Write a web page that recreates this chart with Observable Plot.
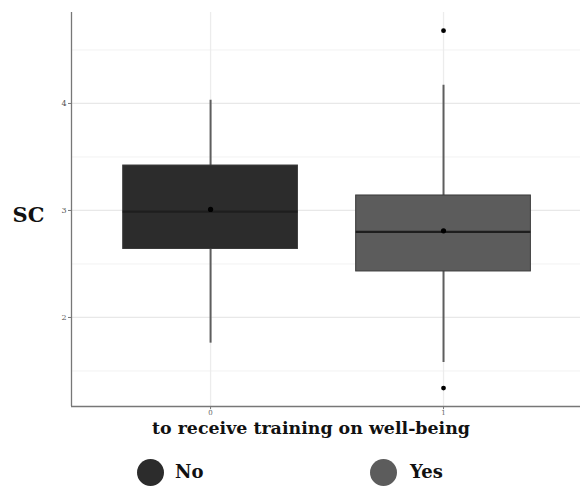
<!DOCTYPE html>
<html>
<head>
<meta charset="utf-8">
<script src="https://cdn.jsdelivr.net/npm/d3@7"></script>
<script src="https://cdn.jsdelivr.net/npm/@observablehq/plot@0.6"></script>
<style>
  body { margin: 0; background: #fff; }
  #chart { width: 580px; }
  .legend { position: relative; height: 38px; font-family: "DejaVu Serif", "Liberation Serif", serif; font-weight: bold; font-size: 18px; color: #111; }
  .legend .sw { position: absolute; width: 27px; height: 27px; border-radius: 50%; top: 11px; }
  .legend .lab { position: absolute; top: 10px; line-height: 27px; }
</style>
</head>
<body>
<div id="chart"></div>
<script>
// Data
const groups = [0, 1];
const groupLabels = ["No", "Yes"];
const fills = ["#2c2c2c", "#5c5c5c"];
const q1 = [2.64, 2.43];
const median = [2.99, 2.80];
const q3 = [3.42, 3.14];
const whiskerLow = [1.76, 1.58];
const whiskerHigh = [4.03, 4.17];
const means = [3.01, 2.81];
const outlierGroup = [1, 1];
const outlierValue = [4.68, 1.34];
const yTicks = [2, 3, 4];
const yMinorGrid = [1.5, 2.5, 3.5, 4.5];
const halfWidth = 0.375;

const boxes = groups.map((g, i) => ({
  g, q1: q1[i], med: median[i], q3: q3[i], lo: whiskerLow[i], hi: whiskerHigh[i],
  mean: means[i], fill: fills[i]
}));
const outliers = outlierGroup.map((g, i) => ({ g, v: outlierValue[i] }));

const plot = Plot.plot({
  width: 580,
  height: 448,
  marginLeft: 71,
  marginRight: 0,
  marginTop: 12,
  marginBottom: 42,
  style: { fontFamily: "DejaVu Serif, Liberation Serif, serif", background: "#fff" },
  x: { domain: [-0.597, 1.588], ticks: groups, tickFormat: d => String(d), label: null },
  y: { domain: [1.168, 4.85], ticks: yTicks, tickFormat: d => String(d), label: null },
  marks: [
    Plot.ruleY(yMinorGrid, { stroke: "#f2f2f2", strokeWidth: 1 }),
    Plot.ruleY(yTicks, { stroke: "#e8e8e8", strokeWidth: 1.3 }),
    Plot.ruleX(groups, { stroke: "#ececec", strokeWidth: 1.3 }),
    Plot.ruleX(boxes, { x: "g", y1: "lo", y2: "hi", stroke: "#5e5e5e", strokeWidth: 2 }),
    Plot.rect(boxes, { x1: d => d.g - halfWidth, x2: d => d.g + halfWidth, y1: "q1", y2: "q3", fill: "fill", stroke: "#3a3a3a", strokeWidth: 1 }),
    Plot.ruleY(boxes, { x1: d => d.g - halfWidth, x2: d => d.g + halfWidth, y: "med", stroke: "#1e1e1e", strokeWidth: 2.2 }),
    Plot.dot(boxes, { x: "g", y: "mean", r: 2.6, fill: "#000", stroke: null }),
    Plot.dot(outliers, { x: "g", y: "v", r: 2.4, fill: "#000", stroke: null }),
    Plot.axisY({ ticks: yTicks, tickSize: 3, tickPadding: 2, fontSize: 8, fill: "#555", stroke: "#777", tickFormat: d => String(d) }),
    Plot.axisX({ ticks: groups, tickSize: 3, tickPadding: 1, fontSize: 7, fill: "#666", stroke: "#777", tickFormat: d => String(d) }),
    Plot.ruleX([-0.597], { stroke: "#777", strokeWidth: 1.3 }),
    Plot.ruleY([1.168], { stroke: "#777", strokeWidth: 1.3 }),
    Plot.text(["SC"], { frameAnchor: "left", dx: -43, dy: 6, textAnchor: "middle", fontSize: 21, fontWeight: "bold", fill: "#111" }),
    Plot.text(["to receive training on well-being"], { frameAnchor: "bottom", dx: -15, dy: 27, textAnchor: "middle", fontSize: 17.4, fontWeight: "bold", fill: "#111" })
  ]
});
document.getElementById("chart").appendChild(plot);

const legend = document.createElement("div");
legend.className = "legend";
const swX = [137, 370];
const labX = [175, 410];
groupLabels.forEach((lab, i) => {
  const sw = document.createElement("div");
  sw.className = "sw";
  sw.style.left = swX[i] + "px";
  sw.style.background = fills[i];
  legend.appendChild(sw);
  const t = document.createElement("div");
  t.className = "lab";
  t.style.left = labX[i] + "px";
  t.textContent = lab;
  legend.appendChild(t);
});
document.body.appendChild(legend);
</script>
</body>
</html>
